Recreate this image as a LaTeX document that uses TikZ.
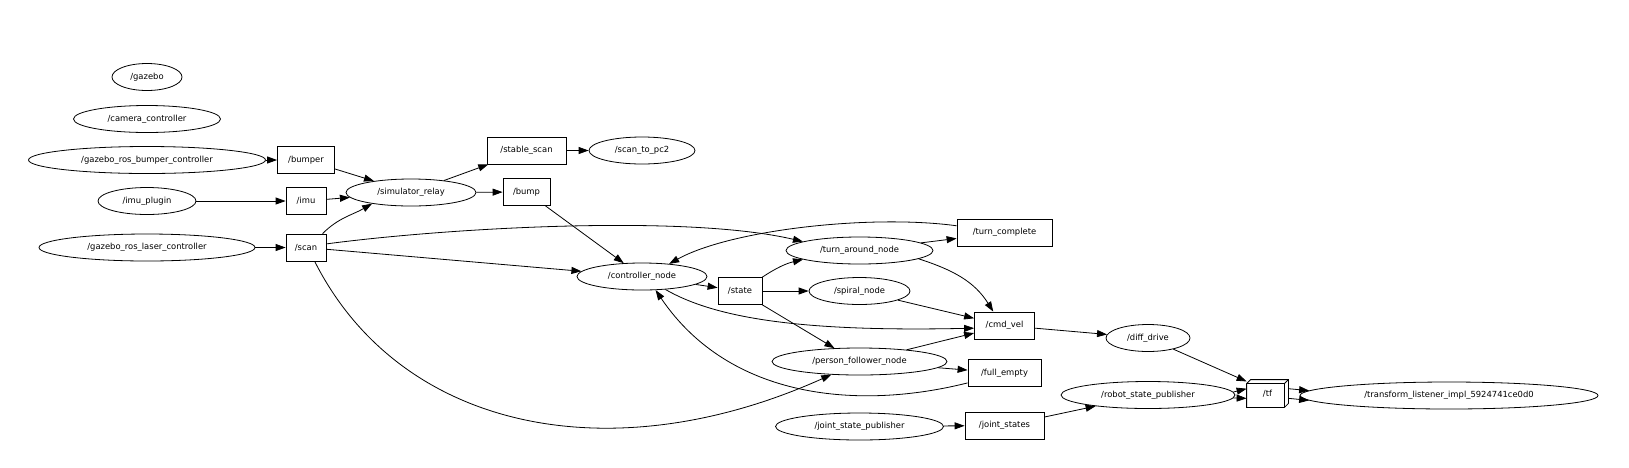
\documentclass[tikz,border=0pt]{standalone}
\usepackage{fontspec}
\setmainfont{DejaVu Sans}
\usepackage{tikz}
\usetikzlibrary{arrows.meta, shapes.geometric}

\begin{document}
\begin{tikzpicture}[
  x=1pt, y=-1pt,
  every node/.style = {font=\fontsize{8.4}{10}\selectfont, inner sep=2pt},
  rosnode/.style    = {ellipse, draw, line width=0.8pt, minimum height=27pt},
  topic/.style      = {rectangle, draw, line width=0.8pt, minimum height=27pt},
  link/.style       = {-{Triangle[length=10pt, width=7pt]}, line width=0.8pt},
]

%% ── Canvas: 1 unit = 1 pixel of the rqt graph, y grows downwards ─────────
\useasboundingbox (0,0) rectangle (1629,467);
\def\dz{4pt}     % depth of the 3d box

% ── RANK 0: gazebo plugins ─────────────────────────────────────────────────
\node[rosnode, minimum width=70pt]  (gazebo)     at (147, 77)    {/gazebo};
\node[rosnode, minimum width=147pt] (camctrl)    at (147,119)    {/camera\_controller};
\node[rosnode, minimum width=237pt] (bumperctrl) at (147,160)    {/gazebo\_ros\_bumper\_controller};
\node[rosnode, minimum width=98pt]  (imuplugin)  at (147,201)    {/imu\_plugin};
\node[rosnode, minimum width=216pt] (laserctrl)  at (147,247.5)  {/gazebo\_ros\_laser\_controller};

% ── RANK 1-3: raw topics and relay ─────────────────────────────────────────
\node[topic, minimum width=57pt] (bumper) at (306,160)   {/bumper};
\node[topic, minimum width=40pt] (imu)    at (306,201)   {/imu};
\node[topic, minimum width=40pt] (scan)   at (306,247.5) {/scan};

\node[rosnode, minimum width=130pt] (relay) at (411,192.5) {/simulator\_relay};

\node[topic, minimum width=79pt] (stablescan) at (526.5,150.5) {/stable\_scan};
\node[topic, minimum width=47pt] (bump)       at (526.5,192)   {/bump};

% ── RANK 4-6: controller and behaviours ────────────────────────────────────
\node[rosnode, minimum width=106pt] (scantopc) at (642,150.5) {/scan\_to\_pc2};
\node[rosnode, minimum width=130pt] (ctrl)     at (642,276.5) {/controller\_node};

\node[topic, minimum width=44pt] (state) at (740,291) {/state};

\node[rosnode, minimum width=147pt] (turnaround) at (859.5,250.5) {/turn\_around\_node};
\node[rosnode, minimum width=101pt] (spiral)     at (859.5,291)   {/spiral\_node};
\node[rosnode, minimum width=175pt] (follower)   at (859.5,361.5) {/person\_follower\_node};
\node[rosnode, minimum width=168pt] (jointpub)   at (859.5,426.5) {/joint\_state\_publisher};

% ── RANK 7-10: outputs and tf ──────────────────────────────────────────────
\node[topic, minimum width=95pt] (turncomplete) at (1004.5,232.5) {/turn\_complete};
\node[topic, minimum width=60pt] (cmdvel)       at (1004.5,325.5) {/cmd\_vel};
\node[topic, minimum width=73pt] (fullempty)    at (1004.5,373)   {/full\_empty};
\node[topic, minimum width=79pt] (jointstates)  at (1004.5,425.5) {/joint\_states};

\node[rosnode, minimum width=84pt]  (diffdrive) at (1148,338) {/diff\_drive};
\node[rosnode, minimum width=174pt] (robotpub)  at (1148,395) {/robot\_state\_publisher};

\node[topic, draw=none, minimum width=41pt] (tf) at (1267.5,393.5) {/tf};
\node[rosnode, minimum width=298pt] (listener) at (1449,395.5) {/transform\_listener\_impl\_5924741ce0d0};

% tf drawn as a 3d box
\draw[line width=0.8pt]
  (tf.south west) -- ([yshift=-\dz]tf.north west) -- ([xshift=\dz]tf.north west)
  -- (tf.north east) -- ([yshift=\dz]tf.south east) -- ([xshift=-\dz]tf.south east) -- cycle;
\draw[line width=0.8pt]
  ([yshift=-\dz]tf.north west) -- ([xshift=-\dz, yshift=-\dz]tf.north east)
  -- ([xshift=-\dz]tf.south east);
\draw[line width=0.8pt] ([xshift=-\dz, yshift=-\dz]tf.north east) -- (tf.north east);

% ── Edges ──────────────────────────────────────────────────────────────────
\draw[link] (bumperctrl) -- (bumper);
\draw[link] (imuplugin) -- (imu);
\draw[link] (laserctrl) -- (scan);
\draw[link] (bumper) -- (relay);
\draw[link] (imu) -- (relay);
\draw[link] (scan.40) to[out=45, in=210] (relay.196);
\draw[link] (relay) -- (stablescan);
\draw[link] (relay) -- (bump);
\draw[link] (stablescan) -- (scantopc);
\draw[link] (bump) -- (ctrl);
\draw[link] (scan) -- (ctrl);
\draw[link] (scan.10) .. controls (446,228) and (685,214) .. (turnaround.171);
\draw[link] (scan.-58) .. controls (400,430) and (610,474) .. (follower.205);

% controller loop
\draw[link] (ctrl) -- (state);
\draw[link] (ctrl.331) .. controls (715,318) and (800,332) .. (cmdvel.185);
\draw[link] (turncomplete.172) .. controls (870,214) and (730,230) .. (ctrl.25);
\draw[link] (fullempty.195) .. controls (860,410) and (730,400) .. (ctrl.315);
\draw[link] (state.north east) to[bend left=10] (turnaround.189);
\draw[link] (state) -- (spiral);
\draw[link] (state.south east) -- (follower.152);

% behaviours -> topics
\draw[link] (turnaround) -- (turncomplete);
\draw[link] (turnaround.352) to[out=-18, in=122] (cmdvel.129);
\draw[link] (spiral) -- (cmdvel);
\draw[link] (follower) -- (cmdvel);
\draw[link] (follower) -- (fullempty);
\draw[link] (jointpub) -- (jointstates);

% drive and transforms
\draw[link] (jointstates) -- (robotpub);
\draw[link] (cmdvel) -- (diffdrive);
\draw[link] (diffdrive) -- (tf.150);
\draw[link] (robotpub.2) -- (tf.167);
\draw[link] (robotpub.-2) -- (tf.193);
\draw[link] (tf.13) -- (listener.178);
\draw[link] (tf.-13) -- (listener.182);

\end{tikzpicture}
\end{document}
